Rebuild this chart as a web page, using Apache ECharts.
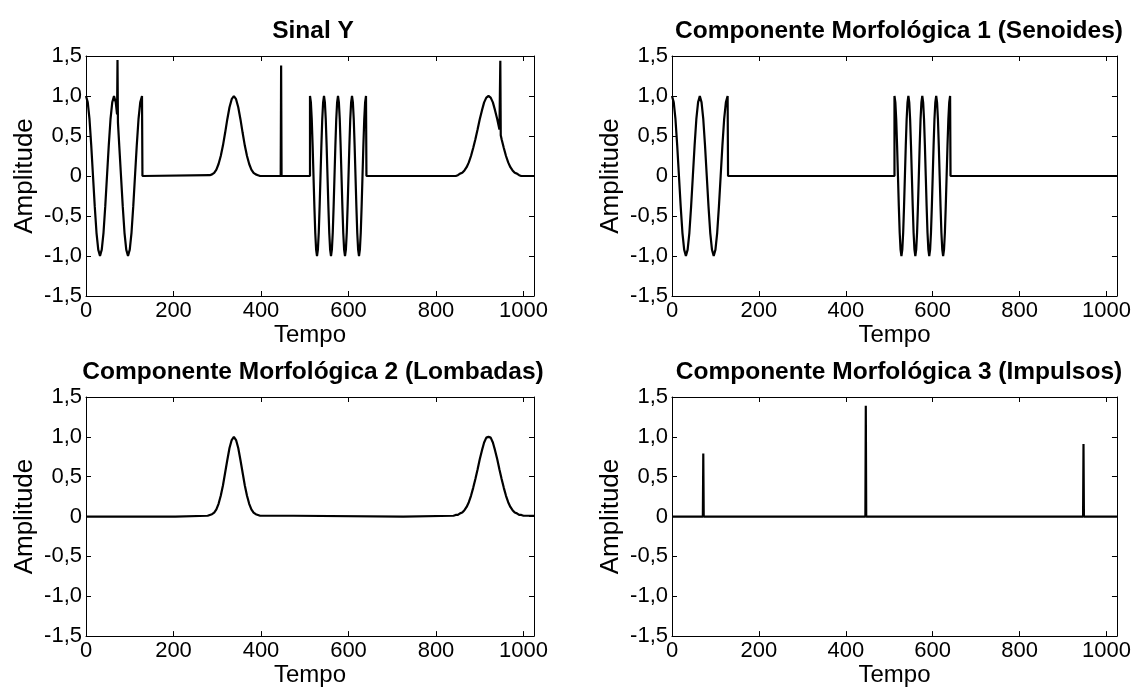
<!DOCTYPE html>
<html>
<head>
<meta charset="utf-8">
<script src="https://cdn.jsdelivr.net/npm/echarts@6/dist/echarts.min.js"></script>
<style>html,body{margin:0;padding:0;background:#fff}#c{width:1134px;height:688px}</style>
</head>
<body>
<div id="c"></div>
<script>
// ---- tick labels / texts ----
const xTicks = [0, 200, 400, 600, 800, 1000];
const xTickLabels = ['0', '200', '400', '600', '800', '1000'];
const yTicks = [-1.5, -1, -0.5, 0, 0.5, 1, 1.5];
const yTickLabels = ['-1,5', '-1,0', '-0,5', '0', '0,5', '1,0', '1,5'];
const titles = ['Sinal Y', 'Componente Morfológica 1 (Senoides)', 'Componente Morfológica 2 (Lombadas)', 'Componente Morfológica 3 (Impulsos)'];
const xName = 'Tempo';
const yName = 'Amplitude';

// ---- series values [tempo, amplitude] ----
const sinalY = [
  [0,1],[4,0.92],[8,0.71],[12,0.38],[16,0],[20,-0.38],[24,-0.71],[28,-0.92],[32,-1],[36,-0.92],[40,-0.71],[44,-0.38],[48,0],[52,0.38],[56,0.71],[60,0.92],[64,1],[68,0.92],[71,0.77],[72,1.45],[73,0.67],[76,0.38],[80,0],[84,-0.38],[88,-0.71],[92,-0.92],[96,-1],[100,-0.92],[104,-0.71],[108,-0.38],[112,0],[116,0.38],[120,0.71],[124,0.92],[128,1],[129,0],
  [283,0.01],[288,0.02],[293,0.04],[298,0.08],[303,0.15],[308,0.25],[313,0.38],[318,0.54],[323,0.71],[328,0.86],[333,0.96],[338,1],[343,0.96],[348,0.86],[353,0.71],[358,0.54],[363,0.38],[368,0.25],[373,0.15],[378,0.08],[383,0.04],[388,0.02],[393,0.01],[398,0],
  [445,0],[446,1.38],[447,0],[512,0],[512,1],
  [514,0.92],[516,0.71],[518,0.38],[520,0],[522,-0.38],[524,-0.71],[526,-0.92],[528,-1],[530,-0.92],[532,-0.71],[534,-0.38],[536,0],[538,0.38],[540,0.71],[542,0.92],[544,1],
  [546,0.92],[548,0.71],[550,0.38],[552,0],[554,-0.38],[556,-0.71],[558,-0.92],[560,-1],[562,-0.92],[564,-0.71],[566,-0.38],[568,0],[570,0.38],[572,0.71],[574,0.92],[576,1],
  [578,0.92],[580,0.71],[582,0.38],[584,0],[586,-0.38],[588,-0.71],[590,-0.92],[592,-1],[594,-0.92],[596,-0.71],[598,-0.38],[600,0],[602,0.38],[604,0.71],[606,0.92],[608,1],
  [610,0.92],[612,0.71],[614,0.38],[616,0],[618,-0.38],[620,-0.71],[622,-0.92],[624,-1],[626,-0.92],[628,-0.71],[630,-0.38],[632,0],[634,0.38],[636,0.71],[638,0.92],[640,1],[641,0],
  [845,0],[850,0.01],[855,0.03],[860,0.04],[865,0.07],[870,0.11],[875,0.17],[880,0.25],[885,0.35],[890,0.46],[895,0.58],[900,0.71],[905,0.82],[910,0.92],[915,0.98],[920,1],[925,0.98],[930,0.92],[935,0.82],[940,0.71],[945,0.58],[946,0.56],[947,1.44],[948,0.51],[950,0.46],[955,0.35],[960,0.25],[965,0.17],[970,0.11],[975,0.07],[980,0.04],[985,0.03],[990,0.01],[995,0],[1024,0]
];

const senoides = [
  [0,1],[4,0.92],[8,0.71],[12,0.38],[16,0],[20,-0.38],[24,-0.71],[28,-0.92],[32,-1],[36,-0.92],[40,-0.71],[44,-0.38],[48,0],[52,0.38],[56,0.71],[60,0.92],[64,1],[68,0.92],[72,0.71],[76,0.38],[80,0],[84,-0.38],[88,-0.71],[92,-0.92],[96,-1],[100,-0.92],[104,-0.71],[108,-0.38],[112,0],[116,0.38],[120,0.71],[124,0.92],[128,1],[129,0],
  [512,0],[512,1],
  [514,0.92],[516,0.71],[518,0.38],[520,0],[522,-0.38],[524,-0.71],[526,-0.92],[528,-1],[530,-0.92],[532,-0.71],[534,-0.38],[536,0],[538,0.38],[540,0.71],[542,0.92],[544,1],
  [546,0.92],[548,0.71],[550,0.38],[552,0],[554,-0.38],[556,-0.71],[558,-0.92],[560,-1],[562,-0.92],[564,-0.71],[566,-0.38],[568,0],[570,0.38],[572,0.71],[574,0.92],[576,1],
  [578,0.92],[580,0.71],[582,0.38],[584,0],[586,-0.38],[588,-0.71],[590,-0.92],[592,-1],[594,-0.92],[596,-0.71],[598,-0.38],[600,0],[602,0.38],[604,0.71],[606,0.92],[608,1],
  [610,0.92],[612,0.71],[614,0.38],[616,0],[618,-0.38],[620,-0.71],[622,-0.92],[624,-1],[626,-0.92],[628,-0.71],[630,-0.38],[632,0],[634,0.38],[636,0.71],[638,0.92],[640,1],[641,0],
  [1024,0]
];

const lombadas = [
  [0,0],[204,0],[205,0.01],[278,0.01],[283,0.02],[288,0.03],[293,0.05],[298,0.09],[303,0.16],[308,0.26],[313,0.39],[318,0.55],[323,0.71],[328,0.86],[333,0.96],[338,1],[343,0.96],[348,0.86],[353,0.71],[358,0.55],[363,0.39],[368,0.26],[373,0.16],[378,0.09],[383,0.05],[388,0.03],[393,0.02],[398,0.01],
  [474,0.01],[475,0],[725,0],[726,0.01],
  [840,0.01],[845,0.02],[850,0.02],[855,0.04],[860,0.05],[865,0.08],[870,0.12],[875,0.18],[880,0.26],[885,0.36],[890,0.47],[895,0.59],[900,0.72],[905,0.83],[910,0.93],[915,0.99],[920,1],[925,0.99],[930,0.93],[935,0.83],[940,0.72],[945,0.59],[950,0.47],[955,0.36],[960,0.26],[965,0.18],[970,0.12],[975,0.08],[980,0.05],[985,0.04],[990,0.02],[995,0.02],[1000,0.01],[1024,0.01]
];

const impulsos = [
  [0,0],[71,0],[72,0.79],[73,0],[445,0],[446,1.39],[447,0],[946,0],[947,0.91],[948,0],[1024,0]
];

const panelData = [sinalY, senoides, lombadas, impulsos];

// ---- layout ----
const grids = [
  {left: 86, top: 56, width: 448, height: 240},
  {left: 672, top: 56, width: 448, height: 240},
  {left: 86, top: 397, width: 448, height: 240},
  {left: 672, top: 397, width: 448, height: 240}
];
const FONT = '"Liberation Sans", Arial, Helvetica, sans-serif';

function xLab(v) { const k = xTicks.indexOf(v); return k >= 0 ? xTickLabels[k] : ''; }
function yLab(v) {
  let k = -1;
  yTicks.forEach((t, j) => { if (Math.abs(t - v) < 1e-9) k = j; });
  return k >= 0 ? yTickLabels[k] : '';
}

const option = {animation: false, backgroundColor: '#fff', title: [], grid: [], xAxis: [], yAxis: [], series: []};
const lineBlack = {color: '#000', width: 1};

grids.forEach((g, i) => {
  option.grid.push({left: g.left, top: g.top, width: g.width, height: g.height, show: false, containLabel: false});
  option.title.push({
    text: titles[i], left: g.left + g.width / 2 - 2, top: g.top - 42, textAlign: 'center',
    textStyle: {fontFamily: FONT, fontSize: 24.5, fontWeight: 'bold', color: '#000'}
  });
  const xBase = {type: 'value', gridIndex: i, min: 0, max: 1024, interval: 200,
    axisLine: {show: true, onZero: false, lineStyle: lineBlack},
    axisTick: {show: true, inside: true, length: 5, lineStyle: lineBlack},
    splitLine: {show: false}};
  option.xAxis.push(Object.assign({}, xBase, {position: 'bottom',
    axisLabel: {show: true, margin: 4, color: '#000', fontFamily: FONT, fontSize: 22, formatter: xLab},
    name: xName, nameLocation: 'middle', nameGap: 25,
    nameTextStyle: {color: '#000', fontFamily: FONT, fontSize: 24}}));
  option.xAxis.push(Object.assign({}, xBase, {position: 'top', axisLabel: {show: false}}));
  const yBase = {type: 'value', gridIndex: i, min: -1.5, max: 1.5, interval: 0.5,
    axisLine: {show: true, onZero: false, lineStyle: lineBlack},
    axisTick: {show: true, inside: true, length: 5, lineStyle: lineBlack},
    splitLine: {show: false}};
  option.yAxis.push(Object.assign({}, yBase, {position: 'left',
    axisLabel: {show: true, margin: 4, color: '#000', fontFamily: FONT, fontSize: 22, formatter: yLab},
    name: yName, nameLocation: 'middle', nameGap: 48,
    nameTextStyle: {color: '#000', fontFamily: FONT, fontSize: 26}}));
  option.yAxis.push(Object.assign({}, yBase, {position: 'right', axisLabel: {show: false}}));
  option.series.push({
    type: 'line', xAxisIndex: 2 * i, yAxisIndex: 2 * i, data: panelData[i],
    showSymbol: false, symbol: 'none', clip: true,
    lineStyle: {color: '#000', width: 2.2}, emphasis: {disabled: true}
  });
});

const chart = echarts.init(document.getElementById('c'), null, {renderer: 'canvas'});
chart.setOption(option);
</script>
</body>
</html>
